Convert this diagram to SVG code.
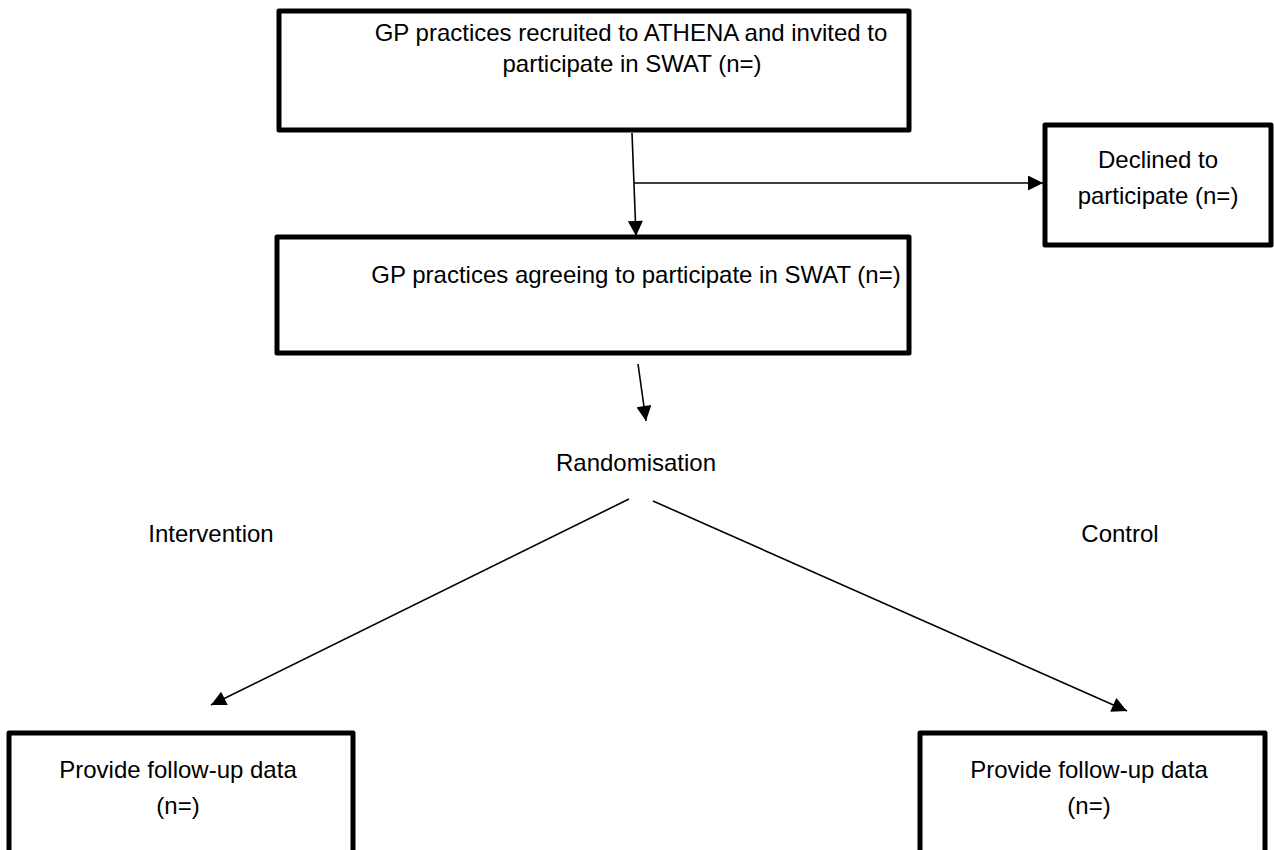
<svg xmlns="http://www.w3.org/2000/svg" width="1274" height="850" viewBox="0 0 1274 850">
<defs>
<marker id="arr" viewBox="0 0 10 10" refX="10" refY="5" markerUnits="userSpaceOnUse" markerWidth="17" markerHeight="15" orient="auto">
<path d="M0,0 L10,5 L0,10 z" fill="#000"/>
</marker>
</defs>
<style>
.box{fill:#fff;stroke:#000;stroke-width:5;stroke-linejoin:round}
.t{font-family:"Liberation Sans",Arial,sans-serif;font-size:24px;fill:#000;text-anchor:middle}
.c{stroke:#000;stroke-width:1.6;fill:none;marker-end:url(#arr)}
</style>
<rect width="1274" height="850" fill="#fff"/>
<g id="connectors">
<line class="c" x1="632" y1="133" x2="636" y2="236"/>
<line class="c" x1="634" y1="183" x2="1043" y2="183"/>
<line class="c" x1="638" y1="364" x2="646" y2="421"/>
<line class="c" x1="629" y1="499" x2="211" y2="705"/>
<line class="c" x1="653" y1="501" x2="1127" y2="711"/>
</g>
<g id="recruited">
<rect class="box" x="279" y="11" width="630" height="119"/>
<text class="t" x="631" y="41">GP practices recruited to ATHENA and invited to</text>
<text class="t" x="632" y="72">participate in SWAT (n=)</text>
</g>
<g id="declined">
<rect class="box" x="1045" y="125" width="226" height="120"/>
<text class="t" x="1158" y="168">Declined to</text>
<text class="t" x="1158" y="204">participate (n=)</text>
</g>
<g id="agreeing">
<rect class="box" x="277" y="237" width="632" height="116"/>
<text class="t" x="636" y="283">GP practices agreeing to participate in SWAT (n=)</text>
</g>
<g id="randomisation">
<text class="t" x="636" y="471">Randomisation</text>
</g>
<g id="intervention-label">
<text class="t" x="211" y="542">Intervention</text>
</g>
<g id="control-label">
<text class="t" x="1120" y="542">Control</text>
</g>
<g id="followup-intervention">
<rect class="box" x="9" y="733" width="344" height="200"/>
<text class="t" x="178" y="778">Provide follow-up data</text>
<text class="t" x="178" y="814">(n=)</text>
</g>
<g id="followup-control">
<rect class="box" x="920" y="733" width="345" height="200"/>
<text class="t" x="1089" y="778">Provide follow-up data</text>
<text class="t" x="1089" y="814">(n=)</text>
</g>
</svg>
